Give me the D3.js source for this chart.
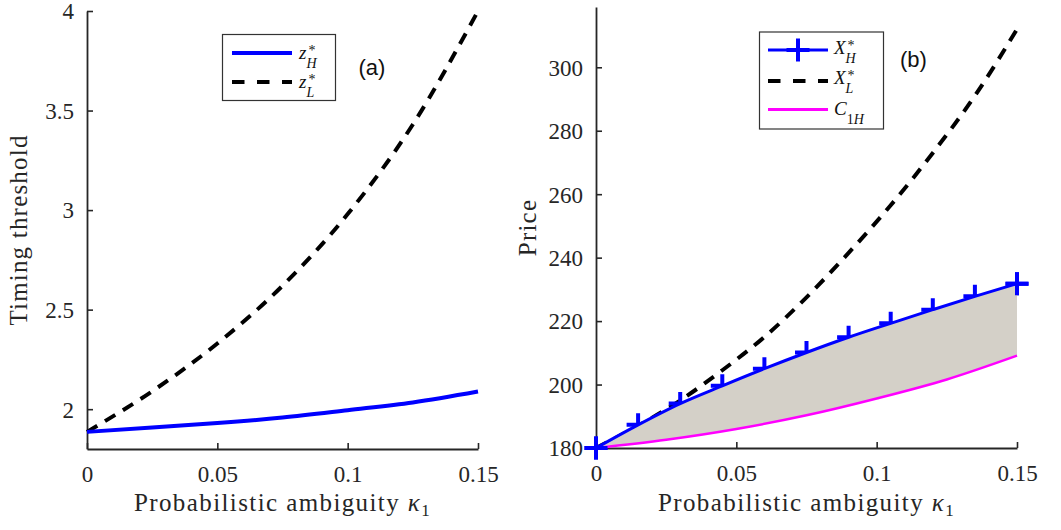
<!DOCTYPE html>
<html>
<head>
<meta charset="utf-8">
<script src="https://cdn.jsdelivr.net/npm/d3@7"></script>
<style>
  html, body { margin: 0; padding: 0; background: #fff; }
  svg { display: block; }
  .serif { font-family: "Liberation Serif", "DejaVu Serif", serif; }
  .sans { font-family: "Liberation Sans", "DejaVu Sans", sans-serif; }
</style>
</head>
<body>
<svg id="chart" width="1061" height="530"></svg>
<script>
// ---------- data ----------
// panel (a)
const kappaA = [0, 0.025, 0.05, 0.075, 0.1, 0.125, 0.15];
const zH = [1.886, 1.908, 1.930, 1.958, 1.995, 2.034, 2.089];
const zL = [1.886, 2.09, 2.33, 2.62, 2.98, 3.43, 4.0];
// panel (b)
const kappaB = [0, 0.015, 0.03, 0.045, 0.06, 0.075, 0.09, 0.105, 0.12, 0.135, 0.15];
const XH = [180, 187.3, 194.0, 199.6, 205.0, 210.1, 214.9, 219.3, 223.6, 227.8, 231.8];
const XL = [180, 187.0, 195.0, 204.5, 215.0, 227.5, 241.5, 256.5, 273.0, 291.0, 312.0];
const kappaC = [0, 0.025, 0.05, 0.075, 0.1, 0.125, 0.15];
const C1H = [180, 182.6, 186.0, 190.3, 195.6, 201.6, 209.1];
// ticks
const xTicks = [0, 0.05, 0.1, 0.15];
const xTickLabels = ["0", "0.05", "0.1", "0.15"];
const yTicksA = [2, 2.5, 3, 3.5, 4];
const yTickLabelsA = ["2", "2.5", "3", "3.5", "4"];
const yTicksB = [180, 200, 220, 240, 260, 280, 300];
const yTickLabelsB = ["180", "200", "220", "240", "260", "280", "300"];

// ---------- styles ----------
const AXIS_COL = "#262626";
const BLUE = "#0000ff", MAGENTA = "#ff00ff", FILL = "#d4d0c8";

const svg = d3.select("#chart");

function drawAxes(g, x, y, yTicks, yLabels, yTitle, yTitleX) {
  const xa = d3.axisBottom(x).tickValues(xTicks).tickFormat((d, i) => xTickLabels[i])
    .tickSizeInner(-6).tickSizeOuter(0);
  const ya = d3.axisLeft(y).tickValues(yTicks).tickFormat((d, i) => yLabels[i])
    .tickSizeInner(-6).tickSizeOuter(0);
  const [y0] = y.range();
  const [x0] = x.range();
  const gx = g.append("g").attr("transform", `translate(0,${y0})`).call(xa);
  const gy = g.append("g").attr("transform", `translate(${x0},0)`).call(ya);
  [gx, gy].forEach(a => {
    a.attr("font-family", null).attr("font-size", null);
    a.select(".domain").attr("stroke", AXIS_COL).attr("stroke-width", 1.8);
    a.selectAll(".tick line").attr("stroke", AXIS_COL).attr("stroke-width", 1.6);
    a.selectAll(".tick text").attr("fill", AXIS_COL).attr("class", "serif")
      .style("font-size", "23px");
  });
  gx.selectAll(".tick text").attr("y", 33).attr("dy", 0);
  gy.selectAll(".tick text").attr("x", -13).attr("dy", "0.34em");
  // x title
  const [xa0, xa1] = x.range();
  const t = g.append("text").attr("class", "serif").attr("x", (xa0 + xa1) / 2).attr("y", 511)
    .attr("text-anchor", "middle").style("font-size", "25px")
    .attr("letter-spacing", 1.4).attr("fill", AXIS_COL);
  t.append("tspan").text("Probabilistic ambiguity ");
  t.append("tspan").attr("font-style", "italic").text("κ");
  t.append("tspan").style("font-size", "17px").attr("dy", 5).text("1");
  // y title
  const [ya0, ya1] = y.range();
  g.append("text").attr("class", "serif")
    .attr("transform", `translate(${yTitleX},${(ya0 + ya1) / 2}) rotate(-90)`)
    .attr("text-anchor", "middle").style("font-size", "25px")
    .attr("letter-spacing", 1.2).attr("fill", AXIS_COL).text(yTitle);
}

function mathLabel(g, x, y, main, sup, sub, fs) {
  const t = g.append("text").attr("class", "serif").attr("x", x).attr("y", y)
    .attr("font-style", "italic").style("font-size", fs + "px").attr("fill", "#111").text(main);
  const w = t.node().getComputedTextLength();
  if (sup) g.append("text").attr("class", "serif").attr("x", x + w + 2).attr("y", y - 4)
    .style("font-size", "14px").attr("fill", "#111").text(sup);
  if (sub) {
    const s = g.append("text").attr("class", "serif").attr("x", x + w).attr("y", y + 9)
      .style("font-size", "14px").attr("fill", "#111");
    sub.forEach(p => s.append("tspan").attr("font-style", p.italic ? "italic" : "normal").text(p.t));
  }
}

function plus(g, cx, cy, size, col, sw) {
  g.append("path").attr("d", `M${cx - size / 2},${cy}H${cx + size / 2}M${cx},${cy - size / 2}V${cy + size / 2}`)
    .attr("stroke", col).attr("stroke-width", sw).attr("fill", "none");
}

// ---------- panel (a) ----------
{
  const g = svg.append("g");
  const x = d3.scaleLinear().domain([0, 0.15]).range([87, 478]);
  const y = d3.scaleLinear().domain([1.8, 4]).range([449, 11]);
  drawAxes(g, x, y, yTicksA, yTickLabelsA, "Timing threshold", 27);
  const line = d3.line().x(d => x(d[0])).y(d => y(d[1])).curve(d3.curveMonotoneX);
  g.append("path").attr("d", line(kappaA.map((k, i) => [k, zL[i]])))
    .attr("fill", "none").attr("stroke", "#000").attr("stroke-width", 4)
    .attr("stroke-dasharray", "12,9");
  g.append("path").attr("d", line(kappaA.map((k, i) => [k, zH[i]])))
    .attr("fill", "none").attr("stroke", BLUE).attr("stroke-width", 4);

  // legend
  const lg = g.append("g");
  lg.append("rect").attr("x", 222.5).attr("y", 34.5).attr("width", 113).attr("height", 66)
    .attr("fill", "#fff").attr("stroke", "#333").attr("stroke-width", 1.2);
  lg.append("line").attr("x1", 232).attr("x2", 292).attr("y1", 53).attr("y2", 53)
    .attr("stroke", BLUE).attr("stroke-width", 4);
  lg.append("line").attr("x1", 232).attr("x2", 292).attr("y1", 82).attr("y2", 82)
    .attr("stroke", "#000").attr("stroke-width", 4).attr("stroke-dasharray", "12.5,12.5");
  mathLabel(lg, 299, 58.5, "z", "*", [{ t: "H", italic: true }], 19);
  mathLabel(lg, 299, 87.5, "z", "*", [{ t: "L", italic: true }], 19);
  g.append("text").attr("class", "sans").attr("x", 372).attr("y", 75).attr("text-anchor", "middle")
    .style("font-size", "22px").attr("fill", "#111").text("(a)");
}

// ---------- panel (b) ----------
{
  const g = svg.append("g");
  const x = d3.scaleLinear().domain([0, 0.15]).range([596, 1017]);
  const y = d3.scaleLinear().domain([180, 319]).range([448, 7]);
  drawAxes(g, x, y, yTicksB, yTickLabelsB, "Price", 536);
  const line = d3.line().x(d => x(d[0])).y(d => y(d[1])).curve(d3.curveMonotoneX);

  // X_L dashed
  g.append("path").attr("d", line(kappaB.map((k, i) => [k, XL[i]])))
    .attr("fill", "none").attr("stroke", "#000").attr("stroke-width", 4)
    .attr("stroke-dasharray", "12,9");
  // markers of X_H
  kappaB.forEach((k, i) => plus(g, x(k), y(XH[i]), 23, BLUE, 4));
  // shaded region between C_1H and X_H
  const top = line(kappaB.map((k, i) => [k, XH[i]]));
  const bot = line(kappaC.map((k, i) => [k, C1H[i]]).reverse());
  g.append("path").attr("d", top + "L" + bot.slice(1) + "Z").attr("fill", FILL).attr("stroke", "none");
  // lines
  g.append("path").attr("d", line(kappaC.map((k, i) => [k, C1H[i]])))
    .attr("fill", "none").attr("stroke", MAGENTA).attr("stroke-width", 2.5);
  g.append("path").attr("d", top).attr("fill", "none").attr("stroke", BLUE).attr("stroke-width", 3);
  // end markers fully visible
  plus(g, x(kappaB[0]), y(XH[0]), 23, BLUE, 4);
  plus(g, x(kappaB[kappaB.length - 1]), y(XH[XH.length - 1]), 23, BLUE, 4);

  // legend
  const lg = g.append("g");
  lg.append("rect").attr("x", 759.5).attr("y", 32).attr("width", 124).attr("height", 97)
    .attr("fill", "#fff").attr("stroke", "#333").attr("stroke-width", 1.2);
  lg.append("line").attr("x1", 768).attr("x2", 828).attr("y1", 50).attr("y2", 50)
    .attr("stroke", BLUE).attr("stroke-width", 3);
  plus(lg, 798, 50, 23, BLUE, 4);
  lg.append("line").attr("x1", 768).attr("x2", 828).attr("y1", 81).attr("y2", 81)
    .attr("stroke", "#000").attr("stroke-width", 4).attr("stroke-dasharray", "12.5,12.5");
  lg.append("line").attr("x1", 768).attr("x2", 828).attr("y1", 109.5).attr("y2", 109.5)
    .attr("stroke", MAGENTA).attr("stroke-width", 3);
  mathLabel(lg, 834, 53.5, "X", "*", [{ t: "H", italic: true }], 19);
  mathLabel(lg, 834, 84, "X", "*", [{ t: "L", italic: true }], 19);
  mathLabel(lg, 834, 115, "C", null, [{ t: "1", italic: false }, { t: "H", italic: true }], 19);
  g.append("text").attr("class", "sans").attr("x", 913.5).attr("y", 67).attr("text-anchor", "middle")
    .style("font-size", "22px").attr("fill", "#111").text("(b)");
}
</script>
</body>
</html>
